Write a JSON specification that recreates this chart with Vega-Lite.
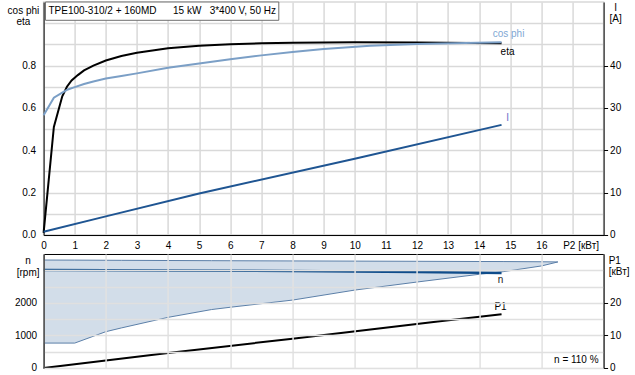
{
  "$schema": "https://vega.github.io/schema/vega-lite/v6.json",
  "background": "white",
  "padding": {"left": 5.6, "top": 0, "right": 0, "bottom": 0},
  "config": {
    "font": "Liberation Sans",
    "view": {"stroke": null},
    "axis": {
      "labelFont": "Liberation Sans", "labelFontSize": 10, "labelColor": "#000",
      "titleFont": "Liberation Sans", "titleFontSize": 10, "titleFontWeight": "normal", "titleColor": "#000"
    },
    "text": {"font": "Liberation Sans", "fontSize": 10}
  },
  "datasets": {
    "curves": [
      {"series": "eta", "P2": 0, "value": 0.01},
      {"series": "eta", "P2": 0.33, "value": 0.51},
      {"series": "eta", "P2": 0.6, "value": 0.655},
      {"series": "eta", "P2": 0.75, "value": 0.7},
      {"series": "eta", "P2": 0.9, "value": 0.73},
      {"series": "eta", "P2": 1.1, "value": 0.755},
      {"series": "eta", "P2": 1.3, "value": 0.777},
      {"series": "eta", "P2": 1.6, "value": 0.8},
      {"series": "eta", "P2": 2.0, "value": 0.824},
      {"series": "eta", "P2": 2.5, "value": 0.845},
      {"series": "eta", "P2": 3.0, "value": 0.86},
      {"series": "eta", "P2": 4.0, "value": 0.882},
      {"series": "eta", "P2": 5.0, "value": 0.893},
      {"series": "eta", "P2": 6.0, "value": 0.9},
      {"series": "eta", "P2": 7.0, "value": 0.905},
      {"series": "eta", "P2": 8.0, "value": 0.908},
      {"series": "eta", "P2": 10.0, "value": 0.91},
      {"series": "eta", "P2": 12.0, "value": 0.909},
      {"series": "eta", "P2": 14.72, "value": 0.905},
      {"series": "cos phi", "P2": 0, "value": 0.565},
      {"series": "cos phi", "P2": 0.33, "value": 0.648},
      {"series": "cos phi", "P2": 0.6, "value": 0.672},
      {"series": "cos phi", "P2": 0.78, "value": 0.687},
      {"series": "cos phi", "P2": 1.0, "value": 0.698},
      {"series": "cos phi", "P2": 1.3, "value": 0.713},
      {"series": "cos phi", "P2": 1.6, "value": 0.725},
      {"series": "cos phi", "P2": 2.0, "value": 0.739},
      {"series": "cos phi", "P2": 2.5, "value": 0.751},
      {"series": "cos phi", "P2": 3.0, "value": 0.763},
      {"series": "cos phi", "P2": 4.0, "value": 0.79},
      {"series": "cos phi", "P2": 5.0, "value": 0.81},
      {"series": "cos phi", "P2": 6.0, "value": 0.83},
      {"series": "cos phi", "P2": 7.0, "value": 0.848},
      {"series": "cos phi", "P2": 8.0, "value": 0.864},
      {"series": "cos phi", "P2": 9.0, "value": 0.878},
      {"series": "cos phi", "P2": 10.5, "value": 0.893},
      {"series": "cos phi", "P2": 12.0, "value": 0.902},
      {"series": "cos phi", "P2": 14.72, "value": 0.91}
    ],
    "current": [
      {"series": "I", "P2": 0, "I": 0.75},
      {"series": "I", "P2": 2, "I": 4.4},
      {"series": "I", "P2": 5, "I": 9.8},
      {"series": "I", "P2": 10, "I": 18.0},
      {"series": "I", "P2": 14.72, "I": 26.0}
    ],
    "band": [
      {"P2": 0, "hi": 3315, "lo": 765},
      {"P2": 1, "hi": 3312, "lo": 765},
      {"P2": 2, "hi": 3308, "lo": 1115},
      {"P2": 2.5, "hi": 3306, "lo": 1230},
      {"P2": 4, "hi": 3300, "lo": 1555},
      {"P2": 5.4, "hi": 3295, "lo": 1795},
      {"P2": 6, "hi": 3293, "lo": 1865},
      {"P2": 8, "hi": 3287, "lo": 2085},
      {"P2": 10, "hi": 3282, "lo": 2392},
      {"P2": 12, "hi": 3276, "lo": 2639},
      {"P2": 14, "hi": 3270, "lo": 2877},
      {"P2": 14.77, "hi": 3268, "lo": 2957},
      {"P2": 16, "hi": 3262, "lo": 3133},
      {"P2": 16.53, "hi": 3256, "lo": 3256}
    ],
    "speed": [
      {"series": "n", "P2": 0, "n": 3008},
      {"series": "n", "P2": 4, "n": 2995},
      {"series": "n", "P2": 8, "n": 2978},
      {"series": "n", "P2": 12, "n": 2950},
      {"series": "n", "P2": 14.72, "n": 2920}
    ],
    "power": [
      {"series": "P1", "P2": 0, "P1": 0},
      {"series": "P1", "P2": 4, "P1": 4.6},
      {"series": "P1", "P2": 8, "P1": 9.0},
      {"series": "P1", "P2": 12.74, "P1": 14.35},
      {"series": "P1", "P2": 14.72, "P1": 16.5}
    ]
  },
  "spacing": 19,
  "bounds": "flush",
  "vconcat": [
    {
      "width": 560,
      "height": 233,
      "view": {"stroke": "#d9d9d9", "strokeWidth": 1.5},
      "encoding": {
        "x": {
          "field": "P2", "type": "quantitative",
          "scale": {"domain": [0, 18], "nice": false, "zero": false},
          "axis": {
            "values": [0,1,2,3,4,5,6,7,8,9,10,11,12,13,14,15,16,17,18],
            "grid": true, "gridColor": "#d9d9d9", "gridWidth": 1.5,
            "domain": true, "domainColor": "#000000", "domainWidth": 1,
            "ticks": false, "labelPadding": 6, "labelOverlap": false, "labelFlush": false,
            "labelExpr": "datum.value <= 16 ? datum.label : ''",
            "title": "P2 [кВт]", "titleX": 537, "titleY": 11,
            "titleAlign": "center", "titleBaseline": "middle", "titleAngle": 0
          }
        }
      },
      "layer": [
        {
          "data": {"name": "curves"},
          "mark": {"type": "line", "strokeWidth": 2},
          "encoding": {
            "y": {
              "field": "value", "type": "quantitative",
              "scale": {"domain": [0, 1.1], "nice": false, "zero": false},
              "axis": {
                "values": [0,0.1,0.2,0.3,0.4,0.5,0.6,0.7,0.8,0.9,1.0],
                "grid": true, "gridColor": "#d9d9d9", "gridWidth": 1.5,
                "domain": true, "domainColor": "#000000",
                "ticks": false, "labelPadding": 8, "labelOverlap": false,
                "labelExpr": "(round(datum.value*10) % 2 == 0 && datum.value < 0.95) ? format(datum.value, '.1f') : ''",
                "title": ["cos phi", "eta"], "titleAngle": 0, "titleX": -20.7, "titleY": 3,
                "titleAlign": "center", "titleBaseline": "top", "titleLineHeight": 12
              }
            },
            "color": {
              "field": "series", "type": "nominal",
              "scale": {"domain": ["eta", "cos phi"], "range": ["#000000", "#7b9fc6"]},
              "legend": null
            }
          }
        },
        {
          "data": {"name": "curves"},
          "transform": [
            {"filter": "datum.series == 'cos phi'"},
            {"joinaggregate": [{"op": "max", "field": "P2", "as": "mx"}]},
            {"filter": "datum.P2 == datum.mx"}
          ],
          "mark": {"type": "text", "dx": 7, "dy": -8, "color": "#7fa8d4", "align": "center", "baseline": "middle"},
          "encoding": {
            "y": {"field": "value", "type": "quantitative", "scale": {"domain": [0, 1.1], "nice": false, "zero": false}, "axis": null},
            "text": {"field": "series"}
          }
        },
        {
          "data": {"name": "curves"},
          "transform": [
            {"filter": "datum.series == 'eta'"},
            {"joinaggregate": [{"op": "max", "field": "P2", "as": "mx"}]},
            {"filter": "datum.P2 == datum.mx"}
          ],
          "mark": {"type": "text", "dx": 6, "dy": 9, "color": "#000000", "align": "center", "baseline": "middle"},
          "encoding": {
            "y": {"field": "value", "type": "quantitative", "scale": {"domain": [0, 1.1], "nice": false, "zero": false}, "axis": null},
            "text": {"field": "series"}
          }
        },
        {
          "data": {"values": [{"P2": 0.06, "P2end": 7.56}]},
          "mark": {"type": "rect", "fill": "#ffffff", "stroke": "#6e6e6e", "strokeWidth": 1},
          "encoding": {
            "x2": {"field": "P2end"},
            "y": {"datum": 1.1, "type": "quantitative", "scale": {"domain": [0, 1.1], "nice": false, "zero": false}, "axis": null},
            "y2": {"datum": 1.0136}
          }
        },
        {
          "data": {"values": [{"P2": 0.06, "t": "TPE100-310/2 + 160MD\u00a0\u00a0\u00a0\u00a0\u00a0\u00a015 kW\u00a0\u00a0\u00a03*400 V, 50 Hz"}]},
          "mark": {"type": "text", "align": "left", "baseline": "middle", "dx": 3, "dy": 9, "fontSize": 10, "color": "#000000"},
          "encoding": {
            "y": {"datum": 1.1, "type": "quantitative", "scale": {"domain": [0, 1.1], "nice": false, "zero": false}, "axis": null},
            "text": {"field": "t"}
          }
        },
        {
          "data": {"name": "current"},
          "mark": {"type": "line", "strokeWidth": 2, "color": "#1f5592"},
          "encoding": {
            "y": {
              "field": "I", "type": "quantitative",
              "scale": {"domain": [0, 55], "nice": false, "zero": false},
              "axis": {
                "orient": "right",
                "values": [0, 10, 20, 30, 40],
                "grid": false,
                "domain": true, "domainColor": "#000000",
                "ticks": true, "tickSize": 4, "tickColor": "#000000",
                "labelPadding": 2, "labelOverlap": false,
                "title": ["I", "[A]"], "titleAngle": 0, "titleX": 11.5, "titleY": 0,
                "titleAlign": "center", "titleBaseline": "top", "titleLineHeight": 12
              }
            }
          }
        },
        {
          "data": {"name": "current"},
          "transform": [
            {"joinaggregate": [{"op": "max", "field": "P2", "as": "mx"}]},
            {"filter": "datum.P2 == datum.mx"}
          ],
          "mark": {"type": "text", "dx": 6, "dy": -7, "color": "#6b6bc8", "align": "center", "baseline": "middle"},
          "encoding": {
            "y": {"field": "I", "type": "quantitative", "scale": {"domain": [0, 55], "nice": false, "zero": false}, "axis": null},
            "text": {"field": "series"}
          }
        }
      ],
      "resolve": {"scale": {"y": "independent"}, "axis": {"y": "independent"}}
    },
    {
      "width": 560,
      "height": 114,
      "view": {"stroke": "#000000", "strokeWidth": 1},
      "encoding": {
        "x": {
          "field": "P2", "type": "quantitative",
          "scale": {"domain": [0, 18], "nice": false, "zero": false},
          "axis": {
            "values": [0,2,4,6,8,10,12,14,16,18],
            "grid": true, "gridColor": "#e2e2e2", "gridWidth": 1.5,
            "domain": false, "ticks": false, "labels": false, "title": null,
            "zindex": 1
          }
        }
      },
      "layer": [
        {
          "data": {"name": "band"},
          "mark": {"type": "area", "fill": "#d2dde9", "opacity": 1},
          "encoding": {
            "y": {
              "field": "hi", "type": "quantitative",
              "scale": {"domain": [0, 3500], "nice": false, "zero": false},
              "axis": {
                "values": [0,500,1000,1500,2000,2500,3000],
                "grid": true, "gridColor": "#e0e0e0", "gridWidth": 1.5,
                "domain": true, "domainColor": "#000000",
                "ticks": false, "labelPadding": 7, "labelOverlap": false,
                "format": "d",
                "labelExpr": "(datum.value % 1000 == 0 && datum.value < 2500) ? datum.label : ''",
                "title": ["n", "[rpm]"], "titleAngle": 0, "titleX": -16, "titleY": 2,
                "titleAlign": "center", "titleBaseline": "top", "titleLineHeight": 12,
                "zindex": 1
              }
            },
            "y2": {"field": "lo"}
          }
        },
        {
          "data": {"name": "band"},
          "mark": {"type": "line", "strokeWidth": 1, "color": "#5a7ea8"},
          "encoding": {
            "y": {"field": "hi", "type": "quantitative", "scale": {"domain": [0, 3500], "nice": false, "zero": false}, "axis": null}
          }
        },
        {
          "data": {"name": "band"},
          "mark": {"type": "line", "strokeWidth": 1, "color": "#5a7ea8"},
          "encoding": {
            "y": {"field": "lo", "type": "quantitative", "scale": {"domain": [0, 3500], "nice": false, "zero": false}, "axis": null}
          }
        },
        {
          "data": {"name": "speed"},
          "mark": {"type": "line", "strokeWidth": 2.5, "color": "#0f4c8a"},
          "encoding": {
            "y": {"field": "n", "type": "quantitative", "scale": {"domain": [0, 3500], "nice": false, "zero": false}, "axis": null}
          }
        },
        {
          "data": {"name": "speed"},
          "transform": [
            {"joinaggregate": [{"op": "max", "field": "P2", "as": "mx"}]},
            {"filter": "datum.P2 == datum.mx"}
          ],
          "mark": {"type": "text", "dx": -1, "dy": 7, "color": "#222222", "align": "center", "baseline": "middle"},
          "encoding": {
            "y": {"field": "n", "type": "quantitative", "scale": {"domain": [0, 3500], "nice": false, "zero": false}, "axis": null},
            "text": {"field": "series"}
          }
        },
        {
          "data": {"name": "power"},
          "mark": {"type": "line", "strokeWidth": 2, "color": "#000000"},
          "encoding": {
            "y": {
              "field": "P1", "type": "quantitative",
              "scale": {"domain": [0, 35], "nice": false, "zero": false},
              "axis": {
                "orient": "right",
                "values": [0, 10, 20],
                "grid": false,
                "domain": true, "domainColor": "#000000",
                "ticks": true, "tickSize": 4, "tickColor": "#000000",
                "labelPadding": 2, "labelOverlap": false,
                "title": ["P1", "[кВт]"], "titleAngle": 0, "titleX": 4.6, "titleY": 2,
                "titleAlign": "left", "titleBaseline": "top", "titleLineHeight": 11,
                "zindex": 1
              }
            }
          }
        },
        {
          "data": {"name": "power"},
          "transform": [
            {"joinaggregate": [{"op": "max", "field": "P2", "as": "mx"}]},
            {"filter": "datum.P2 == datum.mx"}
          ],
          "mark": {"type": "text", "dx": -1, "dy": -7, "color": "#000000", "align": "center", "baseline": "middle"},
          "encoding": {
            "y": {"field": "P1", "type": "quantitative", "scale": {"domain": [0, 35], "nice": false, "zero": false}, "axis": null},
            "text": {"field": "series"}
          }
        },
        {
          "data": {"values": [{"P2": 18, "t": "n = 110 %"}]},
          "mark": {"type": "text", "align": "right", "baseline": "middle", "dx": -5, "dy": -8, "color": "#000000"},
          "encoding": {
            "y": {"datum": 0, "type": "quantitative", "scale": {"domain": [0, 35], "nice": false, "zero": false}, "axis": null},
            "text": {"field": "t"}
          }
        }
      ],
      "resolve": {"scale": {"y": "independent"}, "axis": {"y": "independent"}}
    }
  ]
}
